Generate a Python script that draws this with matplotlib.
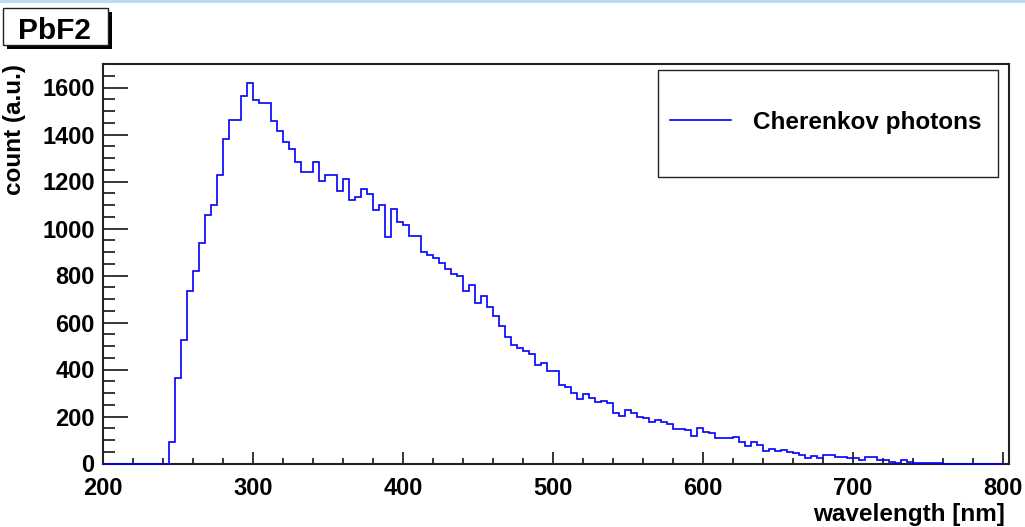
import numpy as np
import matplotlib
matplotlib.use('Agg')
import matplotlib.pyplot as plt
from matplotlib.patches import Rectangle
from matplotlib.ticker import MultipleLocator

# histogram: 4 nm bins from 200 to 800 nm
bin_lo = 200
bin_hi = 800
bin_width = 4
counts = [0] * 11 + [
    92, 363, 526, 732, 820, 939, 1057, 1099, 1227, 1380,
    1462, 1462, 1562, 1621, 1546, 1532, 1536, 1458, 1415, 1370,
    1337, 1284, 1240, 1240, 1285, 1202, 1226, 1226, 1159, 1209,
    1123, 1133, 1166, 1148, 1077, 1098, 963, 1081, 1027, 1014,
    970, 970, 899, 889, 875, 853, 829, 806, 796, 732,
    758, 685, 711, 664, 626, 586, 540, 505, 491, 479,
    466, 419, 429, 395, 395, 334, 327, 299, 273, 294,
    277, 260, 267, 256, 216, 203, 227, 213, 199, 192,
    178, 185, 175, 166, 146, 148, 142, 118, 149, 132,
    128, 110, 110, 110, 111, 92, 75, 90, 78, 53,
    60, 53, 58, 50, 43, 36, 24, 33, 24, 35,
    35, 28, 26, 24, 24, 14, 28, 26, 14, 14,
    6, 4, 14, 8, 4, 3, 3, 1, 1,
] + [0] * 10

title = 'PbF2'
series_name = 'Cherenkov photons'
x_title = 'wavelength [nm]'
y_title = 'count (a.u.)'

W, H = 1025, 527


def fx(px):
    return px / W


def fy(py):
    return 1 - py / H


font = 'Liberation Sans'
plt.rcParams['font.family'] = [font, 'DejaVu Sans']
plt.rcParams['font.weight'] = 'bold'

fig = plt.figure(figsize=(W / 100, H / 100), dpi=100)
ax = fig.add_axes([fx(103), fy(463.5), fx(1009) - fx(103), fy(64) - fy(463.5)])

edges = np.arange(bin_lo, bin_hi + bin_width, bin_width)
ax.stairs(counts, edges, color='#0000ff', lw=1.2, baseline=None, label=series_name,
          zorder=3, clip_on=False)

ax.set_xlim(200, 804.2)
ax.set_ylim(0, 1700)
ax.xaxis.set_major_locator(MultipleLocator(100))
ax.xaxis.set_minor_locator(MultipleLocator(20))
ax.yaxis.set_major_locator(MultipleLocator(200))
ax.yaxis.set_minor_locator(MultipleLocator(50))

for s in ax.spines.values():
    s.set_linewidth(1.5)
    s.set_color('#222222')
ax.tick_params(axis='x', which='major', direction='in', length=8.6, width=1.1, pad=10, labelsize=17)
ax.tick_params(axis='x', which='minor', direction='in', length=4.3, width=1.1)
ax.tick_params(axis='y', which='major', direction='in', length=18, width=1.1, pad=6, labelsize=17)
ax.tick_params(axis='y', which='minor', direction='in', length=8.6, width=1.1)
for lab in ax.get_xticklabels() + ax.get_yticklabels():
    lab.set_fontweight('bold')

# axis titles, ROOT style
fig.text(fx(1005), fy(521), x_title, ha='right', va='baseline', fontsize=17.5, fontweight='bold')
fig.text(fx(15), fy(64), y_title, ha='center', va='top', rotation=90, fontsize=17.5, fontweight='bold')

# legend with its own frame
leg = ax.legend(loc='center left', bbox_to_anchor=(fx(670), fy(122)), bbox_transform=fig.transFigure,
                frameon=False, borderpad=0, borderaxespad=0, handlelength=2.5, handletextpad=0.9,
                prop={'family': font, 'weight': 'bold', 'size': 17.5})
fig.patches.append(Rectangle((fx(658), fy(177)), fx(998) - fx(658), fy(70) - fy(177),
                             transform=fig.transFigure, fill=False, ec='#222222', lw=1.0))

# title box with shadow
fig.patches.append(Rectangle((fx(7), fy(49)), fx(112) - fx(7), fy(12) - fy(49),
                             transform=fig.transFigure, fc='black', ec='black', lw=0))
fig.patches.append(Rectangle((fx(3), fy(45)), fx(108) - fx(3), fy(8) - fy(45),
                             transform=fig.transFigure, fc='white', ec='#222222', lw=1.0))
fig.text(fx(54), fy(31), title, ha='center', va='center', fontsize=21.5, fontweight='bold')

# window edge strip at the top
fig.patches.append(Rectangle((0, fy(3)), 1, 3 / H, transform=fig.transFigure, fc='#b9dbf7', lw=0))

fig.savefig('out.png', dpi=100)
